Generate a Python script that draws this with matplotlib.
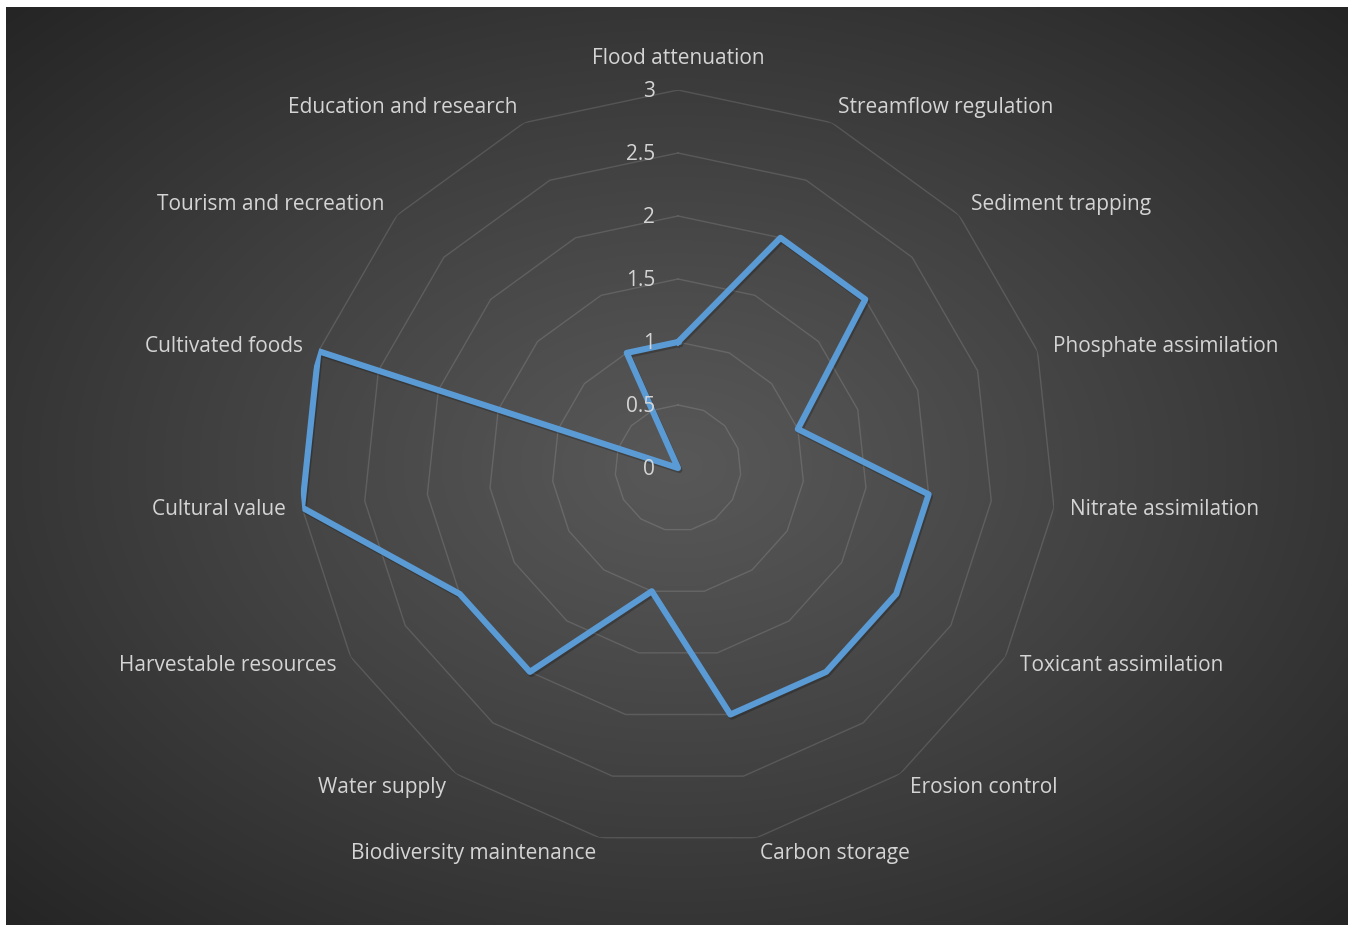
import numpy as np
import matplotlib
matplotlib.use('Agg')
import matplotlib.pyplot as plt
import matplotlib.patheffects as pe

categories = ['Flood attenuation', 'Streamflow regulation', 'Sediment trapping',
              'Phosphate assimilation', 'Nitrate assimilation', 'Toxicant assimilation',
              'Erosion control', 'Carbon storage', 'Biodiversity maintenance',
              'Water supply', 'Harvestable resources', 'Cultural value',
              'Cultivated foods', 'Tourism and recreation', 'Education and research']
values = [1, 2, 2, 1, 2, 2, 2, 2, 1, 2, 2, 3, 3, 0, 1]
ticks = [0, 0.5, 1, 1.5, 2, 2.5, 3]
tick_labels = ['0', '0.5', '1', '1.5', '2', '2.5', '3']

plt.rcParams['font.family'] = ['Open Sans', 'DejaVu Sans']
txtcol = '#d4d4d4'
fs = 15

W, H = 1354, 927
fig = plt.figure(figsize=(W/100, H/100), dpi=100)
fig.patch.set_facecolor('white')

# background with radial gradient
bg = fig.add_axes([6/W, 2/H, 1342/W, 918/H])
bg.set_axis_off()
yy, xx = np.mgrid[-1:1:400j, -1:1:600j]
d = np.sqrt(xx**2 + yy**2) / np.sqrt(2)
c = (0x58 + (0x25 - 0x58) * np.clip(d, 0, 1) ** 1.1) / 255.0
img = np.dstack([c, c, c])
bg.imshow(img, aspect='auto', extent=[0, 1, 0, 1], interpolation='bilinear')

# radar axes
cx, cy, R = 678, 468, 378
ax = fig.add_axes([(cx - R)/W, (H - cy - R)/H, 2*R/W, 2*R/H], projection='polar')
ax.set_facecolor('none')
ax.set_theta_zero_location('N')
ax.set_theta_direction(-1)
ax.set_ylim(0, 3)
ax.grid(False)
ax.spines['polar'].set_visible(False)
ax.set_xticks([])
ax.set_yticks([])

n = len(categories)
angles = np.arange(n) * 2 * np.pi / n
closed = np.append(angles, angles[0])

for t in ticks[1:]:
    ax.plot(closed, [t] * (n + 1), color='white', alpha=0.13, lw=1, zorder=1)

vals = values + values[:1]
ax.plot(closed, vals, color='#5b9bd5', lw=4.4, solid_joinstyle='round', zorder=3,
        path_effects=[pe.SimpleLineShadow(offset=(1, -1.5), shadow_color='black', alpha=0.22),
                      pe.Normal()])

for t, lab in zip(ticks, tick_labels):
    ax.annotate(lab, xy=(0, t), xytext=(-23, -1), textcoords='offset pixels',
                ha='right', va='center', color=txtcol, fontsize=fs, zorder=4)

for a, lab in zip(angles, categories):
    s = np.sin(a)
    if abs(s) < 1e-6:
        ax.text(a, 3.17, lab, ha='center', va='bottom', color=txtcol, fontsize=fs)
    else:
        ax.text(a, 3.13, lab, ha='left' if s > 0 else 'right', va='center',
                color=txtcol, fontsize=fs)

fig.savefig('out.png', dpi=100, facecolor=fig.get_facecolor())
